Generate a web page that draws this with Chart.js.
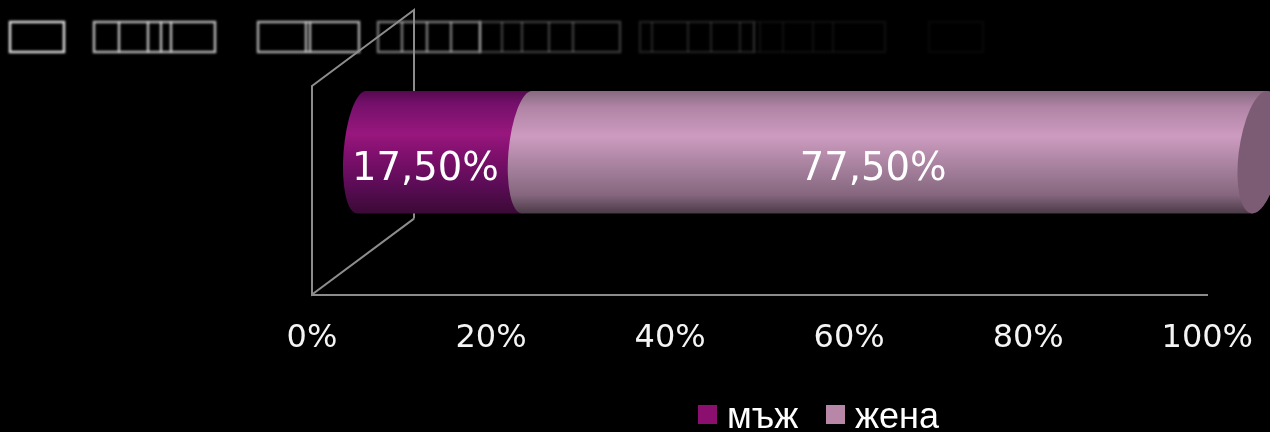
<!DOCTYPE html>
<html>
<head>
<meta charset="utf-8">
<title>chart</title>
<script src="https://cdn.jsdelivr.net/npm/chart.js@4/dist/chart.umd.min.js"></script>
<style>
  html, body { margin: 0; padding: 0; background: #000; overflow: hidden; }
  canvas { display: block; }
</style>
</head>
<body>
<canvas id="myChart" width="1270" height="432"></canvas>
<script>
const categories = [""];
const seriesNames = ["мъж", "жена"];
const maleValues = [17.5];
const femaleValues = [77.5];
const tickValues = [0, 20, 40, 60, 80, 100];

const legendColors = ["#8a0f6e", "#b887a8"];
const sideColors = [null, "#7c5b74"];
const gradients = [
  [[0, "#55094f"], [0.1, "#74106a"], [0.35, "#98177e"], [0.5, "#82106f"], [0.75, "#5e0c58"], [1, "#3a0a36"]],
  [[0, "#866a80"], [0.13, "#b084a5"], [0.37, "#cd9bc0"], [0.6, "#a983a0"], [0.85, "#85667e"], [1, "#4a3a46"]]
];

// percent stacked, so the 95% total fills the whole axis
function share(v, i) {
  return v / (maleValues[i] + femaleValues[i]) * 100;
}

// the smudged boxes along the top of the slide: [x1, x2, alpha, dividers]
const topBoxes = [
  [10, 64, 0.85, []],
  [94, 215, 0.7, [119, 148, 161, 171]],
  [258, 359, 0.65, [306, 310]],
  [378, 480, 0.45, [402, 427, 451]],
  [480, 620, 0.22, [502, 522, 549, 573]],
  [640, 754, 0.12, [652, 688, 711, 740]],
  [754, 885, 0.05, [760, 783, 813, 833]],
  [929, 983, 0.03, []]
];

// the end ellipses lean and widen a little towards the right, like a perspective view
function capAt(x, area) {
  const t = (x - area.left) / area.width;
  return { cx: x + 49.5 + 3 * t, w: 18 + 3 * t, skew: 4.5 + 3 * t };
}

function capArc(ctx, cap, cy, h, from, to, ccw) {
  ctx.save();
  ctx.transform(cap.w, 0, cap.skew, -h, cap.cx, cy);
  ctx.arc(0, 0, 1, from, to, ccw);
  ctx.restore();
}

const cylinderPlugin = {
  id: "cylinder",
  beforeDatasetDraw() {
    return false;
  },
  beforeDatasetsDraw(chart) {
    const ctx = chart.ctx;
    const { left, top, bottom } = chart.chartArea;
    const depthX = 102;
    const depthY = 76;
    ctx.save();
    ctx.filter = "blur(0.8px)";
    topBoxes.forEach((b) => {
      ctx.strokeStyle = "rgba(255,255,255," + b[2] + ")";
      ctx.lineWidth = 2.5;
      ctx.strokeRect(b[0], 22, b[1] - b[0], 30);
      b[3].forEach((x) => {
        ctx.beginPath();
        ctx.moveTo(x, 22);
        ctx.lineTo(x, 52);
        ctx.stroke();
      });
    });
    ctx.restore();

    ctx.save();
    ctx.strokeStyle = "#8c8c8c";
    ctx.lineWidth = 2;
    ctx.beginPath();
    ctx.moveTo(left + depthX, bottom - depthY);
    ctx.lineTo(left, bottom);
    ctx.lineTo(left, top + depthY);
    ctx.lineTo(left + depthX, top);
    ctx.lineTo(left + depthX, bottom - depthY);
    ctx.stroke();
    ctx.restore();
  },
  afterDatasetsDraw(chart) {
    const ctx = chart.ctx;
    const area = chart.chartArea;
    chart.data.datasets.forEach((ds, i) => {
      const el = chart.getDatasetMeta(i).data[0];
      const cy = el.y;
      const h = el.height / 2;
      const start = capAt(el.base, area);
      const end = capAt(el.x, area);
      const grad = ctx.createLinearGradient(0, cy - h, 0, cy + h);
      gradients[i].forEach((s) => grad.addColorStop(s[0], s[1]));

      ctx.save();
      ctx.fillStyle = grad;
      ctx.beginPath();
      capArc(ctx, start, cy, h, -Math.PI / 2, Math.PI / 2, true);
      capArc(ctx, end, cy, h, Math.PI / 2, -Math.PI / 2, true);
      ctx.closePath();
      ctx.fill();

      if (sideColors[i]) {
        ctx.fillStyle = sideColors[i];
        ctx.beginPath();
        capArc(ctx, end, cy, h, 0, Math.PI * 2, false);
        ctx.fill();
      }
      ctx.restore();
    });

    // value labels
    ctx.save();
    ctx.fillStyle = "#fff";
    ctx.font = "38.5px 'DejaVu Sans'";
    ctx.textAlign = "center";
    ctx.textBaseline = "middle";
    chart.data.datasets.forEach((ds, i) => {
      const el = chart.getDatasetMeta(i).data[0];
      const raw = i === 0 ? maleValues[0] : femaleValues[0];
      ctx.fillText(raw.toFixed(2).replace(".", ",") + "%", (el.base + el.x) / 2 + 31, el.y + 18);
    });
    ctx.restore();

    // legend, tighter box-to-text gap than the built in one
    ctx.save();
    ctx.font = "36px 'Liberation Sans'";
    ctx.textBaseline = "alphabetic";
    let x = 698;
    seriesNames.forEach((name, i) => {
      ctx.fillStyle = legendColors[i];
      ctx.fillRect(x, 405, 19, 19);
      ctx.fillStyle = "#fff";
      ctx.fillText(name, x + 29, 427.5);
      x += 128;
    });
    ctx.restore();
  }
};

new Chart(document.getElementById("myChart"), {
  type: "bar",
  data: {
    labels: categories,
    datasets: [
      { label: seriesNames[0], data: maleValues.map(share), backgroundColor: legendColors[0] },
      { label: seriesNames[1], data: femaleValues.map(share), backgroundColor: legendColors[1] }
    ]
  },
  options: {
    indexAxis: "y",
    responsive: false,
    animation: false,
    barPercentage: 0.43,
    categoryPercentage: 1,
    layout: { padding: { left: 312, right: 62, top: 10, bottom: 57 } },
    plugins: { legend: { display: false }, tooltip: { enabled: false } },
    scales: {
      x: {
        stacked: true,
        min: tickValues[0],
        max: tickValues[tickValues.length - 1],
        afterBuildTicks(axis) {
          axis.ticks = tickValues.map((v) => ({ value: v }));
        },
        grid: { display: false },
        border: { display: true, color: "#8c8c8c", width: 2 },
        ticks: {
          color: "#f4f4f4",
          padding: 17,
          maxRotation: 0,
          autoSkip: false,
          font: { family: "'DejaVu Sans'", size: 32 },
          callback: (v) => v + "%"
        }
      },
      y: { stacked: true, display: false }
    }
  },
  plugins: [cylinderPlugin]
});
</script>
</body>
</html>
